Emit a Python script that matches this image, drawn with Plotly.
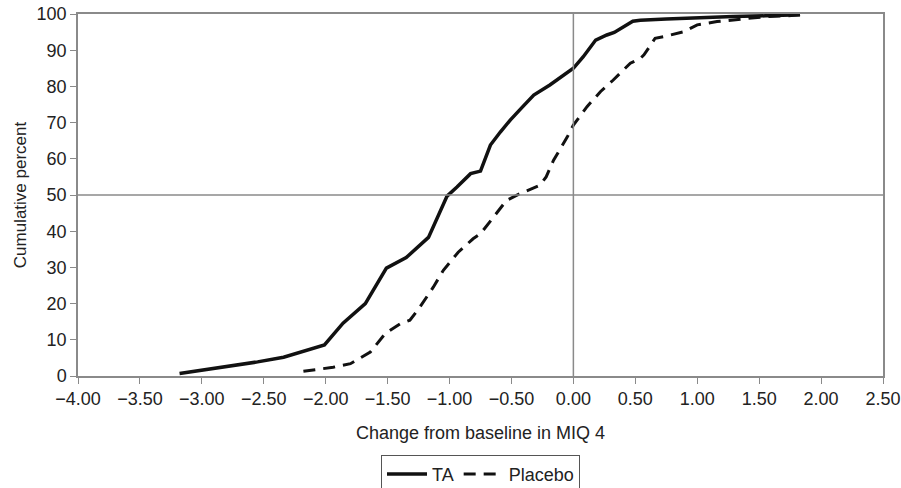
import plotly.graph_objects as go

ta_x = [-3.18, -2.95, -2.75, -2.55, -2.34, -2.21, -2.01, -1.86, -1.68, -1.51, -1.35, -1.17, -1.02, -0.94, -0.83, -0.75, -0.67, -0.59, -0.51, -0.42, -0.32, -0.19, 0.0, 0.08, 0.18, 0.27, 0.33, 0.48, 0.54, 0.75, 1.0, 1.29, 1.55, 1.83]
ta_y = [0.7, 1.8, 2.9, 3.9, 5.2, 6.6, 8.6, 14.6, 20.0, 29.8, 32.7, 38.3, 49.7, 52.2, 55.9, 56.6, 63.8, 67.4, 70.7, 74.0, 77.6, 80.4, 85.0, 88.2, 92.8, 94.2, 94.9, 98.0, 98.3, 98.6, 99.0, 99.3, 99.5, 99.8]

pl_x = [-2.18, -1.94, -1.80, -1.64, -1.52, -1.40, -1.32, -1.24, -1.13, -1.05, -0.93, -0.81, -0.75, -0.65, -0.54, -0.43, -0.27, -0.22, -0.16, -0.05, 0.0, 0.11, 0.22, 0.32, 0.46, 0.54, 0.57, 0.66, 0.75, 0.89, 1.0, 1.16, 1.35, 1.56, 1.72, 1.83]
pl_y = [1.3, 2.4, 3.4, 6.6, 11.7, 14.4, 15.4, 19.0, 24.6, 29.2, 34.2, 37.9, 39.3, 43.7, 48.5, 50.4, 52.7, 55.0, 59.6, 66.0, 69.3, 74.4, 78.6, 81.7, 86.4, 87.7, 88.7, 93.3, 93.9, 95.1, 97.0, 97.9, 98.6, 99.3, 99.5, 99.8]

x_ticks = [-4.0, -3.5, -3.0, -2.5, -2.0, -1.5, -1.0, -0.5, 0.0, 0.5, 1.0, 1.5, 2.0, 2.5]
y_ticks = [0, 10, 20, 30, 40, 50, 60, 70, 80, 90, 100]

axis_col = "#8a8a8a"
fam = "Liberation Sans, Arial, sans-serif"
txt = "#222222"
tick_font = dict(family=fam, size=18, color=txt)

fig = go.Figure()
fig.add_trace(go.Scatter(x=ta_x, y=ta_y, mode="lines", name="TA",
                         line=dict(color="#111111", width=3.5)))
fig.add_trace(go.Scatter(x=pl_x, y=pl_y, mode="lines", name="Placebo",
                         line=dict(color="#111111", width=3, dash="12px,8px")))

fig.add_vline(x=0, line=dict(color=axis_col, width=1.5))
fig.add_hline(y=50, line=dict(color=axis_col, width=1.5))

fig.update_layout(
    width=901, height=488,
    margin=dict(l=78, r=18, t=14, b=112, autoexpand=False),
    paper_bgcolor="white", plot_bgcolor="white",
    font=dict(family=fam, size=18, color=txt),
    showlegend=True,
    legend=dict(orientation="h", x=0.5, xanchor="center", y=-0.218, yanchor="top",
                bordercolor="#555555", borderwidth=1, font=dict(family=fam, size=18, color=txt),
                itemwidth=40, tracegroupgap=0),
)
fig.update_xaxes(range=[-4, 2.5], tickvals=x_ticks, tickformat=".2f", tickfont=tick_font,
                 automargin=False,
                 showgrid=False, zeroline=False, showline=True, mirror=True,
                 linecolor=axis_col, linewidth=1.5, ticks="outside", ticklen=6,
                 tickcolor=axis_col,
                 title=dict(text="Change from baseline in MIQ 4", standoff=18,
                            font=dict(family=fam, size=18, color=txt)))
fig.update_yaxes(range=[0, 100], tickvals=y_ticks, tickfont=tick_font,
                 automargin=False,
                 showgrid=False, zeroline=False, showline=True, mirror=True,
                 linecolor=axis_col, linewidth=1.5, ticks="outside", ticklen=6,
                 tickcolor=axis_col,
                 title=dict(text="Cumulative percent", standoff=6,
                            font=dict(family=fam, size=17, color=txt)))

fig.write_html("out.html", config={"displayModeBar": False},
               post_script="document.body.style.margin='0';")
